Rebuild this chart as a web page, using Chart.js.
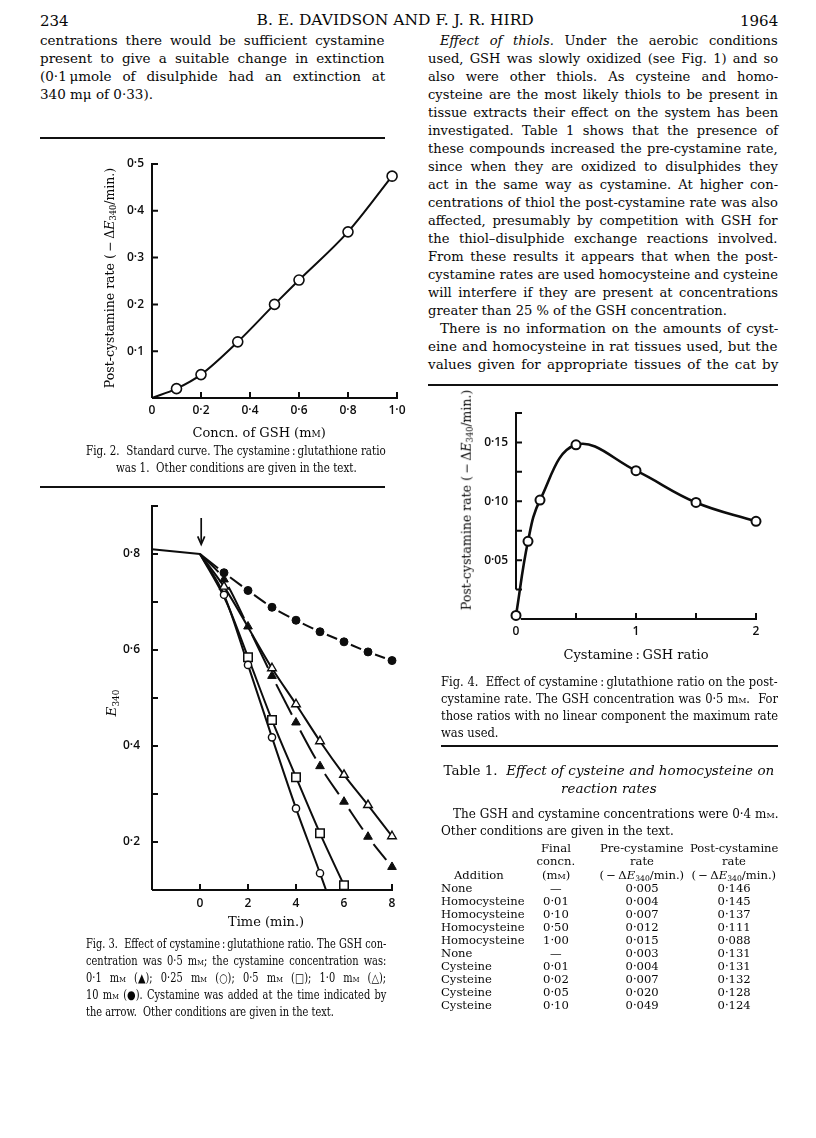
<!DOCTYPE html>
<html>
<head>
<meta charset="utf-8">
<script src="https://cdn.jsdelivr.net/npm/chart.js@4.4.1/dist/chart.umd.min.js"></script>
<style>
body { margin: 0; background: #fff; }
#page { position: relative; width: 816px; height: 1138px; overflow: hidden; color: #080808; font-family: "DejaVu Serif", serif; background: #fff; }
.ln { position: absolute; white-space: nowrap; line-height: 1; transform-origin: 0 50%; }
.rule { position: absolute; background: #111; }
canvas { position: absolute; }
.sc { font-variant: small-caps; }
sub { font-size: 0.66em; vertical-align: -0.28em; line-height: 0; }
.rot { position: absolute; white-space: nowrap; line-height: 1; transform: translate(-50%, -50%) rotate(-90deg); }
</style>
</head>
<body>
<div id="page">
  <canvas id="fig2" width="315" height="280" style="left:102px;top:148px"></canvas>
  <canvas id="fig3" width="310" height="430" style="left:102px;top:490px"></canvas>
  <canvas id="fig4" width="310" height="252" style="left:466px;top:397px"></canvas>
</div>
<script>
// Fig. 2 - standard curve
var fig2Conc = [0.1, 0.2, 0.35, 0.5, 0.6, 0.8, 0.98];
var fig2Rate = [0.02, 0.05, 0.12, 0.2, 0.252, 0.355, 0.474];
var fig2LineStart = { x: 0, y: 0 };

// Fig. 3 - E340 against time, one list per cystamine concentration
var fig3Time = [1, 2, 3, 4, 5, 6, 7, 8];
var e10mM = [0.761, 0.724, 0.689, 0.662, 0.638, 0.617, 0.596, 0.578];   // filled circles
var e01mM = [0.747, 0.649, 0.546, 0.449, 0.358, 0.284, 0.211, 0.148];   // filled triangles
var t1mM = [1, 3, 4, 5, 6, 7, 8];
var e1mM = [0.732, 0.562, 0.487, 0.41, 0.34, 0.277, 0.212];             // open triangles
var t025mM = [1, 2, 3, 4, 5];
var e025mM = [0.715, 0.569, 0.418, 0.27, 0.135];                        // open circles
var t05mM = [2, 3, 4, 5, 6];
var e05mM = [0.585, 0.454, 0.335, 0.218, 0.11];                         // open squares
var baseTime = [-2, 0];
var baseE = [0.81, 0.80];
var sqKnee = { x: 1.1, y: 0.70 };
var circTail = { x: 5.25, y: 0.1 };
var arrowTime = 0.05, arrowFrom = 0.875, arrowTo = 0.82;

// Fig. 4 - rate against cystamine:GSH ratio
var fig4Ratio = [0, 0.1, 0.2, 0.5, 1.0, 1.5, 2.0];
var fig4Rate = [0.003, 0.066, 0.101, 0.148, 0.126, 0.099, 0.083];

// tick labels
var fig2YLabels = [0.1, 0.2, 0.3, 0.4, 0.5];
var fig2XLabels = [0, 0.2, 0.4, 0.6, 0.8, 1.0];
var fig3YLabels = [0.2, 0.4, 0.6, 0.8];
var fig3XLabels = [0, 2, 4, 6, 8];
var fig4YLabels = [0.05, 0.10, 0.15];
var fig4XLabels = [0, 1, 2];

var page = document.getElementById('page');
var INK = '#0d0d0d';

function pts(xs, ys) {
    return xs.map(function (x, i) { return { x: x, y: ys[i] }; });
}

function line(html, x, y, o) {
    o = o || {};
    var size = o.size || 13.5;
    var d = document.createElement('div');
    d.className = 'ln';
    d.style.fontSize = size + 'px';
    d.innerHTML = html;
    page.appendChild(d);
    d.style.top = (y - size * 0.55) + 'px';
    if (o.align === 'center') {
        d.style.left = (x - d.offsetWidth / 2) + 'px';
    } else if (o.align === 'right') {
        d.style.left = (x - d.offsetWidth) + 'px';
    } else {
        d.style.left = (x + (o.indent || 0)) + 'px';
    }
    return d;
}

// 문단: 가장 긴 줄에 맞춰 한 비율로 가로 축소, 나머지는 word-spacing으로 양쪽 맞춤
function para(lines, x, y0, step, w, o) {
    o = o || {};
    var ind = function (i) { return i === 0 ? (o.indent || 0) : 0; };
    var els = lines.map(function (t, i) {
        return line(t, x, y0 + i * step, { size: o.size, indent: ind(i) });
    });
    var k = 1;
    els.forEach(function (d, i) {
        if (o.lastFree && i === els.length - 1) return;
        k = Math.min(k, (w - ind(i)) / d.offsetWidth);
    });
    els.forEach(function (d, i) {
        var nat = d.offsetWidth;
        if (k < 1) d.style.transform = 'scaleX(' + k + ')';
        var last = o.lastFree && i === els.length - 1;
        if (!last) {
            var n = (d.textContent.match(/[ \u00a0]/g) || []).length;
            if (n) d.style.wordSpacing = (((w - ind(i)) / k - nat) / n) + 'px';
        } else if (o.centerLast) {
            d.style.left = (x + w / 2 - nat * k / 2) + 'px';
        }
    });
}

function rule(x, y, w, h) {
    var d = document.createElement('div');
    d.className = 'rule';
    d.style.left = x + 'px'; d.style.top = y + 'px';
    d.style.width = w + 'px'; d.style.height = (h || 1.5) + 'px';
    page.appendChild(d);
}

function rotLabel(html, cx, cy, size) {
    var d = document.createElement('div');
    d.className = 'rot';
    d.style.left = cx + 'px'; d.style.top = cy + 'px';
    d.style.fontSize = size + 'px';
    d.innerHTML = html;
    page.appendChild(d);
}

var MM = 'm<span class="sc">m</span>';
var DE = '(\u2009\u2212\u2009\u0394<i>E</i><sub>340</sub>/min.)';

// 머리글
line('234', 40, 22, { size: 15 });
line('B. E. DAVIDSON AND F. J. R. HIRD', 395, 22, { size: 15.5, align: 'center' });
line('1964', 778, 22, { size: 15, align: 'right' });

// 왼쪽 단
para([
    'centrations there would be sufficient cystamine',
    'present to give a suitable change in extinction',
    '(0\u00b71\u2009\u03bcmole of disulphide had an extinction at',
    '340 m\u03bc of 0\u00b733).'
], 40, 41, 18, 345, { lastFree: true });
rule(40, 137, 345, 1.5);

// 오른쪽 단
para([
    '<i>Effect of thiols.</i> Under the aerobic conditions',
    'used, GSH was slowly oxidized (see Fig. 1) and so',
    'also were other thiols. As cysteine and homo-',
    'cysteine are the most likely thiols to be present in',
    'tissue extracts their effect on the system has been',
    'investigated. Table 1 shows that the presence of',
    'these compounds increased the pre-cystamine rate,',
    'since when they are oxidized to disulphides they',
    'act in the same way as cystamine. At higher con-',
    'centrations of thiol the post-cystamine rate was also',
    'affected, presumably by competition with GSH for',
    'the thiol\u2013disulphide exchange reactions involved.',
    'From these results it appears that when the post-',
    'cystamine rates are used homocysteine and cysteine',
    'will interfere if they are present at concentrations',
    'greater than 25 % of the GSH concentration.'
], 428, 41, 18, 350, { indent: 12, lastFree: true });
para([
    'There is no information on the amounts of cyst-',
    'eine and homocysteine in rat tissues used, but the',
    'values given for appropriate tissues of the cat by'
], 428, 329, 18, 350, { indent: 12 });
rule(428, 384, 350, 1.5);

// 그림 2 글자
rotLabel('Post-cystamine rate ' + DE, 110, 278, 12.5);
line('Concn. of GSH (' + MM + ')', 259, 433, { size: 13, align: 'center' });
para([
    'Fig. 2.\u00a0 Standard curve. The cystamine\u2009:\u2009glutathione ratio',
    'was 1.\u00a0 Other conditions are given in the text.'
], 86, 452, 17, 300, { size: 12, lastFree: true, centerLast: true });
rule(40, 486, 345, 1.5);

// 그림 3 글자
rotLabel('<i>E</i><sub>340</sub>', 112, 703, 13.5);
line('Time (min.)', 266, 922, { size: 13, align: 'center' });
para([
    'Fig. 3.\u00a0 Effect of cystamine\u2009:\u2009glutathione ratio. The GSH con-',
    'centration was 0\u00b75 ' + MM + '; the cystamine concentration was:',
    '0\u00b71 ' + MM + ' (\u25b2); 0\u00b725 ' + MM + ' (\u25cb); 0\u00b75 ' + MM + ' (\u25a1); 1\u00b70 ' + MM + ' (\u25b3);',
    '10 ' + MM + ' (\u25cf). Cystamine was added at the time indicated by',
    'the arrow.\u00a0 Other conditions are given in the text.'
], 86, 945, 17, 300, { size: 12, lastFree: true });

// 그림 4 글자
rotLabel('Post-cystamine rate ' + DE, 467, 500, 12.5);
line('Cystamine\u2009:\u2009GSH ratio', 636, 655, { size: 13, align: 'center' });
para([
    'Fig. 4.\u00a0 Effect of cystamine\u2009:\u2009glutathione ratio on the post-',
    'cystamine rate. The GSH concentration was 0\u00b75 ' + MM + '.\u00a0 For',
    'those ratios with no linear component the maximum rate',
    'was used.'
], 441, 683, 17, 337, { size: 12, lastFree: true });
rule(441, 745, 337, 2);

// 표 1
line('Table 1.\u00a0 <i>Effect of cysteine and homocysteine on</i>', 609, 771, { size: 13.5, align: 'center' });
line('<i>reaction rates</i>', 609, 789, { size: 13.5, align: 'center' });
para([
    'The GSH and cystamine concentrations were 0\u00b74 ' + MM + '.',
    'Other conditions are given in the text.'
], 441, 815, 17, 337, { size: 12, indent: 12, lastFree: true });

var tabAddition = ['None', 'Homocysteine', 'Homocysteine', 'Homocysteine', 'Homocysteine',
    'None', 'Cysteine', 'Cysteine', 'Cysteine', 'Cysteine'];
var tabConc = ['\u2014', '0\u00b701', '0\u00b710', '0\u00b750', '1\u00b700',
    '\u2014', '0\u00b701', '0\u00b702', '0\u00b705', '0\u00b710'];
var tabPre = ['0\u00b7005', '0\u00b7004', '0\u00b7007', '0\u00b7012', '0\u00b7015',
    '0\u00b7003', '0\u00b7004', '0\u00b7007', '0\u00b7020', '0\u00b7049'];
var tabPost = ['0\u00b7146', '0\u00b7145', '0\u00b7137', '0\u00b7111', '0\u00b7088',
    '0\u00b7131', '0\u00b7131', '0\u00b7132', '0\u00b7128', '0\u00b7124'];

var colConc = 556, colPre = 642, colPost = 734, TS = 11.6;
line('Final', colConc, 849, { size: TS, align: 'center' });
line('Pre-cystamine', colPre, 849, { size: TS, align: 'center' });
line('Post-cystamine', colPost, 849, { size: TS, align: 'center' });
line('concn.', colConc, 862, { size: TS, align: 'center' });
line('rate', colPre, 862, { size: TS, align: 'center' });
line('rate', colPost, 862, { size: TS, align: 'center' });
line('Addition', 479, 876, { size: TS, align: 'center' });
line('(' + MM + ')', colConc, 876, { size: TS, align: 'center' });
line(DE, colPre, 876, { size: TS, align: 'center' });
line(DE, colPost, 876, { size: TS, align: 'center' });
tabAddition.forEach(function (a, i) {
    var y = 889 + i * 13;
    line(a, 441, y, { size: TS });
    line(tabConc[i], colConc, y, { size: TS, align: 'center' });
    line(tabPre[i], colPre, y, { size: TS, align: 'center' });
    line(tabPost[i], colPost, y, { size: TS, align: 'center' });
});

// 축 선과 안쪽 눈금
var framePlugin = {
    id: 'frame',
    beforeDatasetsDraw: function (chart, args, o) {
        var ctx = chart.ctx, x = chart.scales.x, y = chart.scales.y;
        var x0 = x.getPixelForValue(o.xAt), y0 = y.getPixelForValue(o.yAt);
        ctx.save();
        ctx.strokeStyle = INK;
        ctx.lineWidth = o.width;
        ctx.beginPath();
        ctx.moveTo(x.getPixelForValue(o.xLine[0]), y0);
        ctx.lineTo(x.getPixelForValue(o.xLine[1]) + o.width / 2, y0);
        ctx.moveTo(x0, y.getPixelForValue(o.yLine[0]));
        ctx.lineTo(x0, y.getPixelForValue(o.yLine[1]) - o.width / 2);
        o.xTicks.forEach(function (v) {
            var px = x.getPixelForValue(v);
            ctx.moveTo(px, y0); ctx.lineTo(px, y0 - o.len);
        });
        o.yTicks.forEach(function (v) {
            var py = y.getPixelForValue(v);
            ctx.moveTo(x0, py); ctx.lineTo(x0 + o.len, py);
        });
        ctx.stroke();
        ctx.restore();
    }
};

// 화살표 (시스타민 첨가 시점)
var arrowPlugin = {
    id: 'arrow',
    afterDatasetsDraw: function (chart, args, o) {
        if (!o.show) return;
        var ctx = chart.ctx;
        var px = chart.scales.x.getPixelForValue(arrowTime);
        var p1 = chart.scales.y.getPixelForValue(arrowFrom);
        var p2 = chart.scales.y.getPixelForValue(arrowTo);
        ctx.save();
        ctx.strokeStyle = INK; ctx.lineWidth = 1.7;
        ctx.beginPath(); ctx.moveTo(px, p1); ctx.lineTo(px, p2 - 1); ctx.stroke();
        ctx.beginPath(); ctx.moveTo(px - 3.5, p2 - 8); ctx.lineTo(px, p2); ctx.lineTo(px + 3.5, p2 - 8);
        ctx.stroke();
        ctx.restore();
    }
};

function tickFont() {
    return { family: '"Open Sans", "DejaVu Sans", sans-serif', size: 12, weight: '600' };
}

function makeScale(min, max, step, labelled, fmt, padding, fixed, isY) {
    return {
        type: 'linear', min: min, max: max,
        border: { display: false },
        grid: { display: false, drawTicks: false },
        ticks: {
            stepSize: step, autoSkip: false, maxRotation: 0, padding: padding,
            color: INK, font: tickFont(),
            callback: function (v) {
                var hit = labelled.some(function (l) { return Math.abs(l - v) < step / 10; });
                return hit ? fmt(v) : '';
            }
        },
        afterFit: function (s) {
            if (isY) s.width = fixed; else s.height = fixed;
            s.paddingLeft = s.paddingRight = s.paddingTop = s.paddingBottom = 0;
        }
    };
}

function dot(v, d) { return v.toFixed(d).replace('.', '\u00b7'); }

function baseOptions(pad, scales, frame, arrow) {
    return {
        responsive: false, animation: false,
        layout: { autoPadding: false, padding: pad },
        scales: scales,
        plugins: { legend: { display: false }, tooltip: { enabled: false }, frame: frame, arrow: { show: !!arrow } },
        elements: { line: { borderColor: INK, borderWidth: 2, fill: false } }
    };
}

function markers(data, style, filled, r, bw) {
    return {
        data: data, showLine: false, clip: false,
        pointStyle: style, pointRadius: r, pointBorderWidth: bw,
        pointBorderColor: INK, pointBackgroundColor: filled ? INK : '#fff'
    };
}

// 점 사이마다 끊기는 점선: 구간 길이에 맞춰 양 끝에 틈을 둔다
function segLen(c) { return Math.hypot(c.p1.x - c.p0.x, c.p1.y - c.p0.y); }
function gapDash(g) {
    return {
        borderDash: function (c) {
            var L = segLen(c);
            return c.p0DataIndex === 0 ? [Math.max(L - g, 1), 2 * g] : [Math.max(L - 2 * g, 1), 2 * g];
        },
        borderDashOffset: function (c) {
            var L = segLen(c);
            return c.p0DataIndex === 0 ? 0 : Math.max(L - 2 * g, 1) + g;
        }
    };
}

function curve(data, o) {
    var ds = {
        data: data, showLine: true, clip: false, pointRadius: 0,
        borderColor: INK, borderWidth: o.width || 2,
        tension: o.tension || 0
    };
    if (o.monotone) ds.cubicInterpolationMode = 'monotone';
    if (o.gap) ds.segment = gapDash(o.gap);
    return ds;
}

// 그림 2
new Chart(document.getElementById('fig2'), {
    type: 'scatter',
    data: {
        datasets: [
            markers(pts(fig2Conc, fig2Rate), 'circle', false, 5, 1.6),
            curve([fig2LineStart].concat(pts(fig2Conc, fig2Rate)), { monotone: true })
        ]
    },
    options: baseOptions({ left: 0, top: 16, right: 20, bottom: 0 }, {
        x: makeScale(0, 1.0, 0.2, fig2XLabels, function (v) { return Math.abs(v) < 1e-9 ? '0' : dot(v, 1); }, 5, 30, false),
        y: makeScale(0, 0.5, 0.1, fig2YLabels, function (v) { return dot(v, 1); }, 8, 50, true)
    }, { xAt: 0, yAt: 0, xLine: [0, 1.0], yLine: [0, 0.5], xTicks: [0.2, 0.4, 0.6, 0.8, 1.0], yTicks: [0.1, 0.2, 0.3, 0.4, 0.5], len: 6, width: 2 }),
    plugins: [framePlugin]
});

// 그림 3
var start3 = { x: baseTime[1], y: baseE[1] };
new Chart(document.getElementById('fig3'), {
    type: 'scatter',
    data: {
        datasets: [
            markers(pts(fig3Time, e10mM), 'circle', true, 4, 1),
            markers(pts(fig3Time, e01mM), 'triangle', true, 5, 1),
            markers(pts(t1mM, e1mM), 'triangle', false, 5, 1.4),
            markers(pts(t025mM, e025mM), 'circle', false, 3.6, 1.4),
            markers(pts(t05mM, e05mM), 'rect', false, 6, 1.5),
            curve(pts(baseTime, baseE), {}),
            curve([start3].concat(pts(fig3Time, e10mM)), { monotone: true, gap: 7.5 }),
            curve([start3].concat(pts(fig3Time, e01mM)), { monotone: true, gap: 9 }),
            curve([start3].concat(pts(t1mM, e1mM)), { monotone: true }),
            curve([start3].concat(pts(t025mM, e025mM), [circTail]), { monotone: true }),
            curve([start3, sqKnee].concat(pts(t05mM, e05mM)), { monotone: true })
        ]
    },
    options: baseOptions({ left: 0, top: 16, right: 20, bottom: 0 }, {
        x: makeScale(-2, 8, 2, fig3XLabels, function (v) { return String(Math.round(v)); }, 6, 30, false),
        y: makeScale(0.1, 0.9, 0.1, fig3YLabels, function (v) { return dot(v, 1); }, 12, 50, true)
    }, { xAt: -2, yAt: 0.1, xLine: [-2, 8], yLine: [0.1, 0.9], xTicks: [0, 2, 4, 6, 8], yTicks: [0.2, 0.3, 0.4, 0.5, 0.6, 0.7, 0.8, 0.9], len: 6, width: 2 }, true),
    plugins: [framePlugin, arrowPlugin]
});

// 그림 4
new Chart(document.getElementById('fig4'), {
    type: 'scatter',
    data: {
        datasets: [
            markers(pts(fig4Ratio, fig4Rate), 'circle', false, 4.5, 2),
            curve(pts(fig4Ratio, fig4Rate), { tension: 0.4, width: 2.6 })
        ]
    },
    options: baseOptions({ left: 0, top: 16, right: 20, bottom: 0 }, {
        x: makeScale(0, 2, 0.5, fig4XLabels, function (v) { return String(Math.round(v)); }, 5, 30, false),
        y: makeScale(0, 0.175, 0.025, fig4YLabels, function (v) { return dot(v, 2); }, 8, 50, true)
    }, { xAt: 0, yAt: 0, xLine: [0.04, 2], yLine: [0.025, 0.175], xTicks: [0.5, 1, 1.5, 2], yTicks: [0.025, 0.05, 0.075, 0.1, 0.125, 0.15, 0.175], len: 6, width: 2 }),
    plugins: [framePlugin]
});
</script>
</body>
</html>
